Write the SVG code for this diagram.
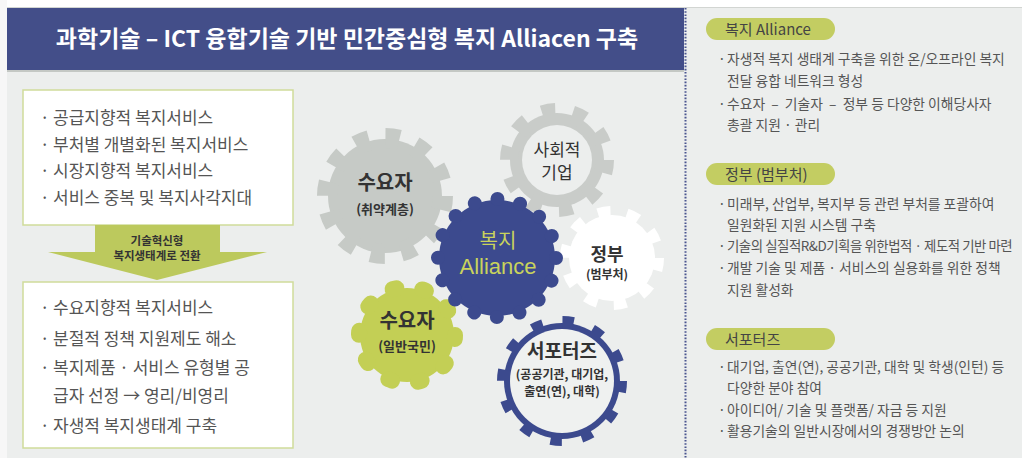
<svg xmlns="http://www.w3.org/2000/svg" width="1022" height="458" viewBox="0 0 1022 458">
  <style>
    text { font-family: "Noto Sans CJK KR", "Noto Sans", sans-serif; }
    .title { font-size: 23px; font-weight: bold; fill: #ffffff; }
    .box { fill: #ffffff; stroke: #cfdc9a; stroke-width: 1.5; }
    .lt { font-size: 17px; fill: #555555; }
    .rt { font-size: 13.8px; fill: #555555; }
    .tight { font-size: 13.4px; letter-spacing: -0.45px; }
    .pill { fill: #c3cd62; }
    .pt { font-size: 15px; fill: #444444; }
    .arr-t { font-size: 11.5px; font-weight: bold; fill: #333333; }
    .gt { fill: #333333; font-weight: bold; text-anchor: middle; }
  </style>

  <!-- page background -->
  <rect x="0" y="0" width="1022" height="458" fill="#eceeed"/>
  <rect x="0" y="0" width="1022" height="7" fill="#ffffff"/>
  <rect x="0" y="0" width="7" height="458" fill="#f7f7f7"/>
  <line x1="7" y1="7.5" x2="1022" y2="7.5" stroke="#d2d5d2" stroke-width="1"/>

  <!-- title bar -->
  <g id="title">
    <rect x="7" y="8" width="677" height="62" fill="#434e89"/>
    <line x1="7" y1="71" x2="684" y2="71" stroke="#c4c8c4" stroke-width="2"/>
    <text class="title" x="347" y="47" text-anchor="middle">과학기술 – ICT 융합기술 기반 민간중심형 복지 Alliacen 구축</text>
  </g>

  <!-- dotted divider -->
  <line x1="685.5" y1="8" x2="685.5" y2="458" stroke="#4a5590" stroke-width="2" stroke-dasharray="1.6 1.6"/>

  <!-- left: before -->
  <g id="before">
    <rect class="box" x="23" y="90" width="270" height="135"/>
    <text class="lt"><tspan x="40" y="124">·</tspan><tspan x="53" y="124">공급지향적 복지서비스</tspan></text>
    <text class="lt"><tspan x="40" y="151">·</tspan><tspan x="53" y="151">부처별 개별화된 복지서비스</tspan></text>
    <text class="lt"><tspan x="40" y="177">·</tspan><tspan x="53" y="177">시장지향적 복지서비스</tspan></text>
    <text class="lt"><tspan x="40" y="204">·</tspan><tspan x="53" y="204">서비스 중복 및 복지사각지대</tspan></text>
  </g>

  <!-- transition arrow -->
  <g id="transition">
    <path d="M95 225 H220 V252 H267 L157 280 L48 252 H95 Z" fill="#bcc95d"/>
    <text class="arr-t" x="157" y="245" text-anchor="middle">기술혁신형</text>
    <text class="arr-t" x="157" y="260" text-anchor="middle">복지생태계로 전환</text>
  </g>

  <!-- left: after -->
  <g id="after">
    <rect class="box" x="23" y="282" width="270" height="166"/>
    <text class="lt"><tspan x="40" y="314">·</tspan><tspan x="53" y="314">수요지향적 복지서비스</tspan></text>
    <text class="lt"><tspan x="40" y="345">·</tspan><tspan x="53" y="345">분절적 정책 지원제도 해소</tspan></text>
    <text class="lt"><tspan x="40" y="374">·</tspan><tspan x="53" y="374">복지제품 · 서비스 유형별 공</tspan></text>
    <text class="lt"><tspan x="53" y="402">급자 선정 → 영리/비영리</tspan></text>
    <text class="lt"><tspan x="40" y="432">·</tspan><tspan x="53" y="432">자생적 복지생태계 구축</tspan></text>
  </g>

  <!-- gears -->
  <g id="gear-demand-vulnerable">
    <circle cx="385" cy="196" r="57" fill="#c6cac6"/>
    <circle cx="385" cy="196" r="58" fill="none" stroke="#c6cac6" stroke-width="20" stroke-dasharray="14 16.37"/>
    <text class="gt" x="385" y="190" font-size="20">수요자</text>
    <text class="gt" x="385" y="214" font-size="13">(취약계층)</text>
  </g>

  <g id="gear-social-enterprise">
    <circle cx="557" cy="160" r="47" fill="#c9ccc9"/>
    <circle cx="557" cy="160" r="48" fill="none" stroke="#c9ccc9" stroke-width="18" stroke-dasharray="13 17.16"/>
    <circle cx="557" cy="160" r="35" fill="#eceeed"/>
    <text x="557" y="156" font-size="17" fill="#333" text-anchor="middle">사회적</text>
    <text x="557" y="179" font-size="17" fill="#333" text-anchor="middle">기업</text>
  </g>

  <g id="gear-government">
    <circle cx="612" cy="258" r="43" fill="#ffffff"/>
    <circle cx="612" cy="258" r="44" fill="none" stroke="#ffffff" stroke-width="16" stroke-dasharray="12 15.65"/>
    <text class="gt" x="607" y="261" font-size="18">정부</text>
    <text class="gt" x="607" y="279" font-size="12">(범부처)</text>
  </g>

  <g id="gear-supporters">
    <circle cx="562" cy="381" r="58" fill="#3c4a8e"/>
    <circle cx="562" cy="381" r="58" fill="none" stroke="#3c4a8e" stroke-width="14" stroke-dasharray="11 19.37"/>
    <circle cx="562" cy="381" r="52" fill="#eff1f0"/>
    <text class="gt" x="562" y="358" font-size="19">서포터즈</text>
    <text class="gt" x="562" y="379" font-size="12">(공공기관, 대기업,</text>
    <text class="gt" x="562" y="396" font-size="12">출연(연), 대학)</text>
  </g>

  <g id="gear-demand-public">
    <circle cx="407" cy="335" r="47" fill="#c3cf55"/>
    <circle cx="407" cy="335" r="48" fill="none" stroke="#c3cf55" stroke-width="16" stroke-linecap="round" stroke-dasharray="4 26.16"/>
    <text class="gt" x="407" y="328" font-size="20">수요자</text>
    <text class="gt" x="407" y="351" font-size="13">(일반국민)</text>
  </g>

  <g id="gear-alliance">
    <circle cx="497" cy="258" r="58" fill="#3c4a8e"/>
    <circle cx="497" cy="258" r="59" fill="none" stroke="#3c4a8e" stroke-width="14" stroke-linecap="round" stroke-dasharray="0.01 23.16"/>
    <text x="498" y="248" font-size="20" fill="#c9d35c" text-anchor="middle">복지</text>
    <text x="498" y="274" font-size="22" fill="#c9d35c" text-anchor="middle" style="font-family: 'Liberation Sans', Arial, sans-serif">Alliance</text>
  </g>

  <!-- right panel: welfare alliance -->
  <g id="panel-alliance">
    <rect class="pill" x="706" y="18" width="129" height="22" rx="11"/>
    <text class="pt" x="725" y="35">복지 Alliance</text>
    <text class="rt"><tspan x="718" y="64">·</tspan><tspan x="727" y="64">자생적 복지 생태계 구축을 위한 온/오프라인 복지</tspan></text>
    <text class="rt"><tspan x="727" y="86">전달 융합 네트워크 형성</tspan></text>
    <text class="rt"><tspan x="718" y="109">·</tspan><tspan x="727" y="109">수요자 &#160;– &#160;기술자 &#160;– &#160;정부 등 다양한 이해당사자</tspan></text>
    <text class="rt"><tspan x="727" y="130">총괄 지원 · 관리</tspan></text>
  </g>

  <!-- right panel: government -->
  <g id="panel-government">
    <rect class="pill" x="706" y="163" width="129" height="22" rx="11"/>
    <text class="pt" x="725" y="180">정부 (범부처)</text>
    <text class="rt"><tspan x="718" y="209">·</tspan><tspan x="727" y="209">미래부, 산업부, 복지부 등 관련 부처를 포괄하여</tspan></text>
    <text class="rt"><tspan x="727" y="230">일원화된 지원 시스템 구축</tspan></text>
    <text class="rt"><tspan x="718" y="251">·</tspan><tspan class="tight" x="727" y="251">기술의 실질적R&amp;D기획을 위한법적 · 제도적 기반 마련</tspan></text>
    <text class="rt"><tspan x="718" y="273">·</tspan><tspan x="727" y="273">개발 기술 및 제품 · 서비스의 실용화를 위한 정책</tspan></text>
    <text class="rt"><tspan x="727" y="295">지원 활성화</tspan></text>
  </g>

  <!-- right panel: supporters -->
  <g id="panel-supporters">
    <rect class="pill" x="706" y="328" width="129" height="22" rx="11"/>
    <text class="pt" x="725" y="345">서포터즈</text>
    <text class="rt"><tspan x="718" y="372">·</tspan><tspan x="727" y="372">대기업, 출연(연), 공공기관, 대학 및 학생(인턴) 등</tspan></text>
    <text class="rt"><tspan x="727" y="393">다양한 분야 참여</tspan></text>
    <text class="rt"><tspan x="718" y="415">·</tspan><tspan x="727" y="415">아이디어/ 기술 및 플랫폼/ 자금 등 지원</tspan></text>
    <text class="rt"><tspan x="718" y="436">·</tspan><tspan x="727" y="436">활용기술의 일반시장에서의 경쟁방안 논의</tspan></text>
  </g>
</svg>
